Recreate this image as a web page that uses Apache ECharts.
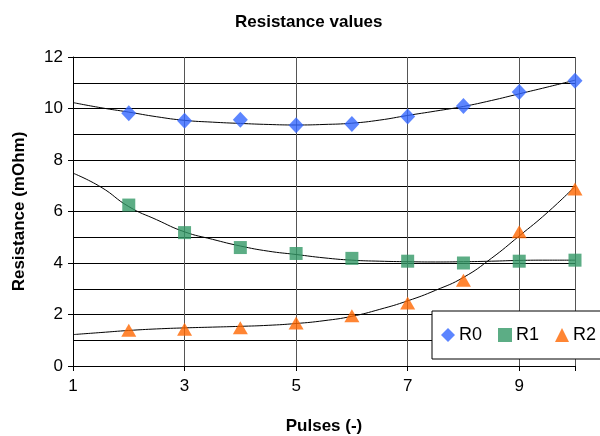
<!DOCTYPE html>
<html>
<head>
<meta charset="utf-8">
<script src="https://cdn.jsdelivr.net/npm/echarts@6/dist/echarts.min.js"></script>
<style>
  html, body { margin: 0; padding: 0; background: #fff; }
  #chart { width: 600px; height: 436px; }
</style>
</head>
<body>
<div id="chart"></div>
<script>
// measured points, pulses 2..10
var pulses = [2, 3, 4, 5, 6, 7, 8, 9, 10];
var r0 = [9.82, 9.52, 9.56, 9.35, 9.40, 9.69, 10.10, 10.64, 11.08];
var r1 = [6.25, 5.18, 4.60, 4.37, 4.18, 4.07, 4.00, 4.07, 4.11];
var r2 = [1.39, 1.43, 1.49, 1.67, 1.95, 2.45, 3.33, 5.21, 6.87];

// trendlines
var trendX = [1, 1.5, 2, 2.5, 3, 3.5, 4, 4.5, 5, 5.5, 6, 6.5, 7, 7.5, 8, 8.5, 9, 9.5, 10];
var trend0 = [10.23, 10.03, 9.86, 9.68, 9.54, 9.47, 9.42, 9.38, 9.36, 9.38, 9.43, 9.55, 9.73, 9.90, 10.08, 10.31, 10.57, 10.83, 11.10];
var trend1 = [7.49, 6.95, 6.19, 5.68, 5.21, 4.92, 4.66, 4.46, 4.33, 4.20, 4.11, 4.07, 4.05, 4.04, 4.05, 4.07, 4.10, 4.11, 4.11];
var trend2 = [1.22, 1.30, 1.38, 1.44, 1.48, 1.51, 1.54, 1.58, 1.65, 1.76, 1.93, 2.20, 2.53, 2.94, 3.44, 4.18, 5.05, 5.95, 6.97];

var xLabels = [1, 3, 5, 7, 9];
var yLabels = [0, 2, 4, 6, 8, 10, 12];

function pairs(xs, ys) {
  var out = [];
  for (var i = 0; i < xs.length; i++) out.push([xs[i], ys[i]]);
  return out;
}

var font = 'Liberation Sans, Arial, sans-serif';

var chart = echarts.init(document.getElementById('chart'));
chart.setOption({
  animation: false,
  textStyle: { fontFamily: font },
  title: {
    text: 'Resistance values',
    left: 230,
    top: 9,
    textStyle: { fontSize: 17, fontWeight: 'bold', color: '#000', fontFamily: font }
  },
  legend: {
    data: ['R0', 'R1', 'R2'],
    orient: 'horizontal',
    left: 432,
    top: 311,
    width: 220,
    padding: [15, 30, 15, 9],
    itemGap: 16,
    itemWidth: 14,
    itemHeight: 14,
    borderColor: '#000',
    borderWidth: 1,
    backgroundColor: '#fff',
    textStyle: { fontSize: 18, color: '#000', fontFamily: font, padding: [0, 0, 0, -1] }
  },
  grid: { left: 73, right: 25, top: 57, bottom: 70, containLabel: false, outerBoundsMode: 'none' },
  xAxis: {
    type: 'value',
    min: 1,
    max: 10,
    interval: 2,
    name: 'Pulses (-)',
    nameLocation: 'middle',
    nameGap: 52,
    nameTextStyle: { fontSize: 17, fontWeight: 'bold', color: '#000', fontFamily: font },
    axisLine: { show: true, lineStyle: { color: '#000', width: 1 } },
    axisTick: { show: true, length: 5, lineStyle: { color: '#000' } },
    axisLabel: {
      fontSize: 17, color: '#000', margin: 12,
      formatter: function (v) { return xLabels.indexOf(v) >= 0 ? String(v) : ''; }
    },
    splitLine: { show: true, lineStyle: { color: '#555', width: 1 } }
  },
  yAxis: {
    type: 'value',
    min: 0,
    max: 12,
    interval: 2,
    name: 'Resistance (mOhm)',
    nameLocation: 'middle',
    nameGap: 45,
    nameTextStyle: { fontSize: 17, fontWeight: 'bold', color: '#000', fontFamily: font },
    axisLine: { show: true, lineStyle: { color: '#000', width: 1 } },
    axisTick: { show: true, length: 5, lineStyle: { color: '#000' } },
    axisLabel: {
      fontSize: 17, color: '#000', margin: 10,
      formatter: function (v) { return yLabels.indexOf(v) >= 0 ? String(v) : ''; }
    },
    splitLine: { show: true, lineStyle: { color: '#000', width: 1 } },
    minorTick: { show: false, splitNumber: 2 },
    minorSplitLine: { show: true, lineStyle: { color: '#000', width: 1 } }
  },
  series: [
    {
      type: 'line', data: pairs(trendX, trend0), smooth: true, symbol: 'none', silent: true,
      lineStyle: { color: '#000', width: 1 }, z: 1
    },
    {
      type: 'line', data: pairs(trendX, trend1), smooth: true, symbol: 'none', silent: true,
      lineStyle: { color: '#000', width: 1 }, z: 1
    },
    {
      type: 'line', data: pairs(trendX, trend2), smooth: true, symbol: 'none', silent: true,
      lineStyle: { color: '#000', width: 1 }, z: 1
    },
    {
      name: 'R0', type: 'scatter', data: pairs(pulses, r0), symbol: 'diamond', symbolSize: [15, 16],
      itemStyle: { color: '#3366FF' }, z: 3
    },
    {
      name: 'R1', type: 'scatter', data: pairs(pulses, r1), symbol: 'rect', symbolSize: 13,
      itemStyle: { color: '#339966' }, z: 3
    },
    {
      name: 'R2', type: 'scatter', data: pairs(pulses, r2), symbol: 'triangle', symbolSize: [15, 13],
      itemStyle: { color: '#FF6600' }, z: 3
    }
  ]
});
</script>
</body>
</html>
